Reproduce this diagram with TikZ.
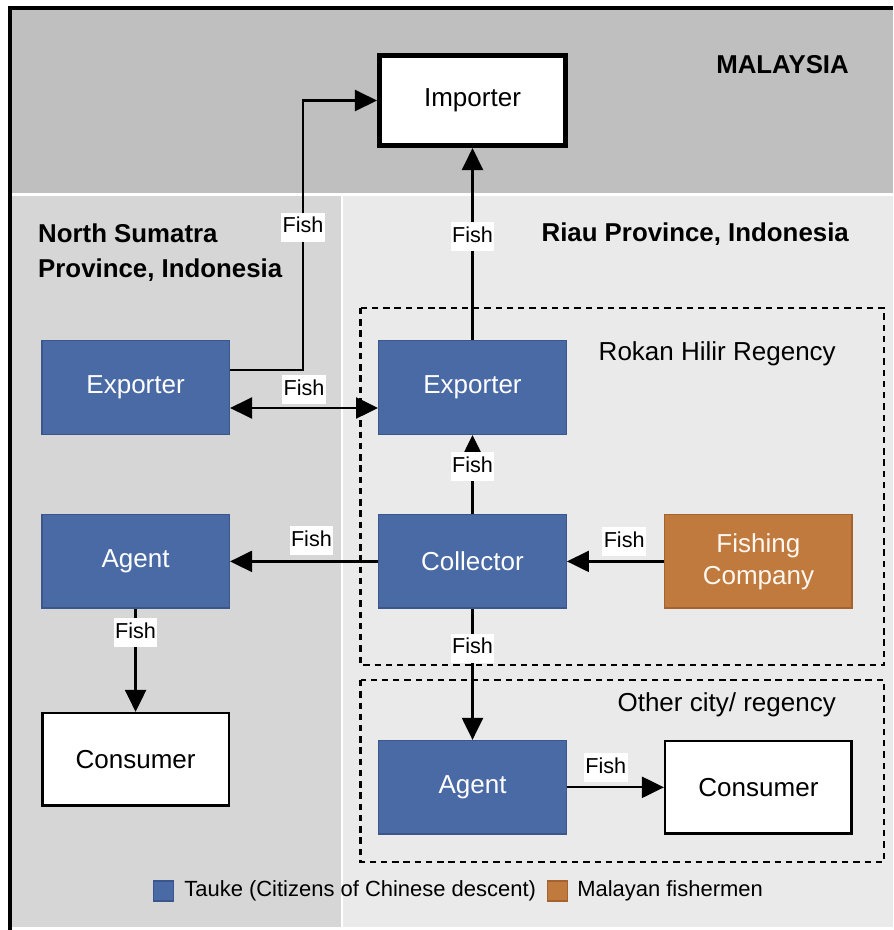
\documentclass[tikz,border=0pt]{standalone}
\usepackage{fontspec}
\setmainfont{Liberation Sans}
\usetikzlibrary{positioning, arrows.meta, backgrounds}
\definecolor{taukeblue}{RGB}{74,106,166}
\definecolor{taukeedge}{RGB}{58,86,140}
\definecolor{malayorange}{RGB}{193,122,62}
\definecolor{malayedge}{RGB}{163,98,46}
\definecolor{malaysiagray}{RGB}{191,191,191}
\definecolor{sumatragray}{RGB}{214,214,214}
\definecolor{riaugray}{RGB}{234,234,234}
\tikzset{
    tauke/.style={draw, rectangle, minimum width=3.75cm, minimum height=1.87cm, align=center, draw=taukeedge, fill=taukeblue, line width=0.8pt, text=white, font=\fontsize{14.8}{18.2}\selectfont},
    malayan/.style={tauke, draw=malayedge, fill=malayorange, text=white!94!orange},
    buyer/.style={draw, rectangle, minimum width=3.73cm, minimum height=1.85cm, align=center, draw=black, fill=white, line width=1.4pt, font=\fontsize{14.8}{18.2}\selectfont},
    importer/.style={buyer, minimum width=3.73cm, minimum height=1.81cm, line width=2.6pt},
    fish/.style={fill=white, inner xsep=0.8pt, inner ysep=2.5pt, text height=9pt, text depth=2.5pt, font=\fontsize{12.3}{14}\selectfont},
    flow/.style={->, >={Triangle[length=0.44cm, width=0.42cm]}, line width=1.3pt, draw=black},
    twoway/.style={flow, <->},
    regency/.style={draw=black, line width=1.6pt, dash pattern=on 3.6pt off 2.8pt},
    heading/.style={align=left, font=\bfseries\fontsize{14.7}{19.9}\selectfont},
    placename/.style={font=\fontsize{14.8}{18}\selectfont},
    legsq/.style={draw, rectangle, minimum size=0.4cm, inner sep=0pt, line width=0.6pt},
    legtxt/.style={inner sep=0pt, font=\fontsize{12.5}{15}\selectfont}
}
\begin{document}
\begin{tikzpicture}
        \useasboundingbox (0,0) rectangle (17.86,-18.6);

        % Nodi principali
        \node (rexp) [tauke] at (9.45,-7.75) {Exporter};
        \node (imp) [importer, above=3.84cm of rexp] {Importer};
        \node (lexp) [tauke, left=2.96cm of rexp] {Exporter};
        \node (coll) [tauke, below=1.58cm of rexp] {Collector};
        \node (fishco) [malayan, right=1.94cm of coll] {Fishing\\Company};
        \node (lagent) [tauke, left=2.96cm of coll] {Agent};
        \node (lcons) [buyer, below=2.06cm of lagent] {Consumer};
        \node (ragent) [tauke, below=2.62cm of coll] {Agent};
        \node (rcons) [buyer, right=1.94cm of ragent] {Consumer};

        % Etichette delle regioni
        \node (malaysia) [heading, anchor=base east] at (17.1,-1.47) {MALAYSIA};
        \node (sumatra) [heading, anchor=west] at (0.64,-5.06) {North Sumatra\\Province, Indonesia};
        \node (riau) [heading, anchor=base east] at (17.1,-4.83) {Riau Province, Indonesia};
        \node (rokan) [placename, anchor=base east] at (16.84,-7.2) {Rokan Hilir Regency};
        \node (other) [placename, anchor=base east] at (16.84,-14.22) {Other city/ regency};

        % Legenda
        \node (sqtauke) [legsq, draw=taukeedge, fill=taukeblue] at (3.27,-17.82) {};
        \node (txttauke) [legtxt, right=0.2cm of sqtauke] {Tauke (Citizens of Chinese descent)};
        \node (sqmalay) [legsq, draw=malayedge, fill=malayorange, right=0.22cm of txttauke] {};
        \node (txtmalay) [legtxt, right=0.17cm of sqmalay] {Malayan fishermen};

        % Connessioni
        \coordinate (tomy) at (6.06,0);
        \draw [flow] ([yshift=0.35cm]lexp.east) -| node [fish, pos=0.765] {Fish} (tomy |- imp.west) -- (imp.west);
        \draw [flow] (rexp) -- node [fish, pos=0.54] {Fish} (imp);
        \draw [twoway] ([yshift=-0.41cm]lexp.east) -- node [fish, above=0.06cm] {Fish} ([yshift=-0.41cm]rexp.west);
        \draw [flow] (coll) -- node [fish, pos=0.6] {Fish} (rexp);
        \draw [flow] (coll) -- node [fish, above=0.1cm, pos=0.45] {Fish} (lagent);
        \draw [flow] (fishco) -- node [fish, above=0.08cm, pos=0.41] {Fish} (coll);
        \draw [flow] (lagent) -- node [fish, pos=0.23] {Fish} (lcons);
        \draw [flow] (coll) -- node [fish, pos=0.3] {Fish} (ragent);
        \draw [flow] (ragent) -- node [fish, above=0.08cm, pos=0.4] {Fish} (rcons);

        \begin{scope}[on background layer]
            \fill [white] (0,0) rectangle (17.86,-18.6);
            \fill [malaysiagray] (0.2,-0.16) rectangle (17.86,-3.87);
            \fill [sumatragray] (0.2,-3.92) rectangle (6.81,-18.54);
            \fill [riaugray] (6.85,-3.92) rectangle (17.86,-18.54);
            \draw [regency] (7.21,-6.16) rectangle (17.68,-13.3);
            \draw [regency] (7.21,-13.6) rectangle (17.68,-17.24);
            \draw [line width=2.2pt] (0.205,-18.6) -- (0.205,-0.165) -- (17.86,-0.165);
        \end{scope}

\end{tikzpicture}
\end{document}
